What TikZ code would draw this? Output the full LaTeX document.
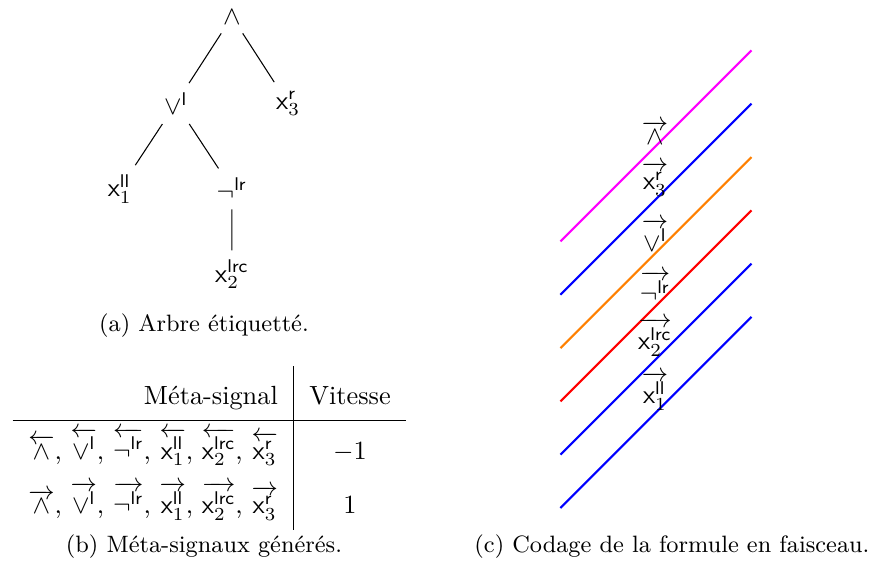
\documentclass[tikz,border=0pt]{standalone}
\usepackage{amsmath}
\usetikzlibrary{arrows.meta}
\definecolor{sigmag}{rgb}{1,0,1}
\newcommand{\xlab}[2]{\mathsf{x}_{#1}^{\mathsf{#2}}}
\newcommand{\sigR}[1]{\overrightarrow{#1}}
\newcommand{\sigL}[1]{\overleftarrow{#1}}
\tikzset{
  capt/.style={font=\small},
  ray/.style={thick},
  sig/.style={inner sep=1pt}
}

\begin{document}
\begin{tikzpicture}
 \useasboundingbox (0,0) rectangle (11.64,7.644);
 % (a) arbre
 \node (and) at (3.10,7.42) {$\wedge$};
 \node (or) at (2.35,6.26) {$\vee^{\mathsf{l}}$};
 \node (x3) at (3.85,6.26) {$\xlab{3}{r}$};
 \node (x1) at (1.60,5.12) {$\xlab{1}{ll}$};
 \node (neg) at (3.10,5.12) {$\neg^{\mathsf{lr}}$};
 \node (x2) at (3.10,3.98) {$\xlab{2}{lrc}$};
 \draw (and)--(or) (and)--(x3) (or)--(x1) (or)--(neg) (neg)--(x2);
 \node[capt] (capa) at (2.726,3.288) {(a) Arbre étiquetté.};
 % (b) tableau
 \node[inner sep=0pt] (tab) at (2.80,1.657) {%
  \renewcommand{\arraystretch}{1.72}%
  \begin{tabular}{r|c}
   Méta-signal & Vitesse\\ \hline
   $\sigL{\wedge}$, $\sigL{\vee^{\mathsf{l}}}$, $\sigL{\neg^{\mathsf{lr}}}$, $\sigL{\xlab{1}{ll}}$, $\sigL{\xlab{2}{lrc}}$, $\sigL{\xlab{3}{r}}$ & $-1$\\
   $\sigR{\wedge}$, $\sigR{\vee^{\mathsf{l}}}$, $\sigR{\neg^{\mathsf{lr}}}$, $\sigR{\xlab{1}{ll}}$, $\sigR{\xlab{2}{lrc}}$, $\sigR{\xlab{3}{r}}$ & $1$
  \end{tabular}};
 \node[capt] (capb) at (2.726,0.334) {(b) Méta-signaux générés.};
 % (c) faisceau
 \foreach \c [count=\i from 0] in {blue,blue,red,orange,blue,sigmag}
  \draw[ray,\c] (7.49,0.855+\i*0.7125) -- ++(2.553,2.553);
 \node[sig] (sand) at (8.753,5.87) {$\sigR{\wedge}$};
 \node[sig] (sx3) at (8.753,5.25) {$\sigR{\xlab{3}{r}}$};
 \node[sig] (sor) at (8.753,4.50) {$\sigR{\vee^{\mathsf{l}}}$};
 \node[sig] (sneg) at (8.753,3.81) {$\sigR{\neg^{\mathsf{lr}}}$};
 \node[sig] (sx2) at (8.753,3.14) {$\sigR{\xlab{2}{lrc}}$};
 \node[sig] (sx1) at (8.753,2.42) {$\sigR{\xlab{1}{ll}}$};
 \node[capt] (capc) at (8.98,0.334) {(c) Codage de la formule en faisceau.};
\end{tikzpicture}
\end{document}
